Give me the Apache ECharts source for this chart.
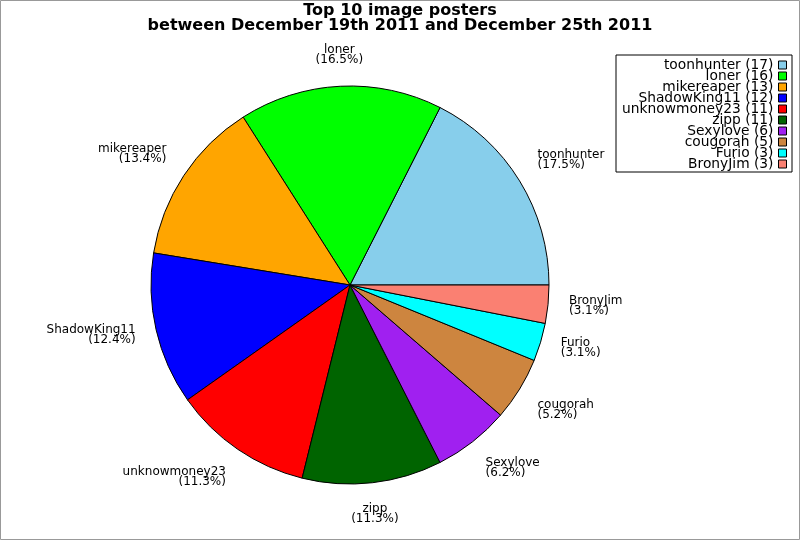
<!DOCTYPE html>
<html><head><meta charset="utf-8">
<script src="https://cdn.jsdelivr.net/npm/echarts@6/dist/echarts.min.js"></script>
<style>html,body{margin:0;padding:0;background:#fff}#c{width:800px;height:540px}</style>
</head><body><div id="c"></div>
<script>
const names = ['toonhunter','loner','mikereaper','ShadowKing11','unknowmoney23','zipp','Sexylove','cougorah','Furio','BronyJim'];
const counts = [17,16,13,12,11,11,6,5,3,3];
const colors = ['#87CEEB','#00FF00','#FFA500','#0000FF','#FF0000','#006400','#A020F0','#CD853F','#00FFFF','#FA8072'];
const titleText = 'Top 10 image posters\nbetween December 19th 2011 and December 25th 2011';

const CX = 350, CY = 285, R = 199, LR = 220;
const total = counts.reduce((a, b) => a + b, 0);
function midAngle(i) {
  let s = 0;
  for (let k = 0; k < i; k++) s += counts[k];
  return (s + counts[i] / 2) / total * 360;
}
const chart = echarts.init(document.getElementById('c'), null, {renderer: 'canvas'});
chart.setOption({
  animation: false,
  backgroundColor: '#fff',
  graphic: [{type: 'rect', shape: {x: 0.5, y: 0.5, width: 799, height: 539}, style: {fill: 'none', stroke: '#999', lineWidth: 1}, silent: true}],
  title: {
    text: titleText, left: 'center', top: 3, padding: 0,
    textStyle: {fontFamily: 'DejaVu Sans', fontSize: 16, fontWeight: 'bold', lineHeight: 15, color: '#000'}
  },
  legend: {
    orient: 'vertical', right: 8, top: 55, align: 'right',
    itemWidth: 8, itemHeight: 8, itemGap: -3, padding: [3, 5, 1, 6],
    borderColor: '#000', borderWidth: 1, icon: 'rect', selectedMode: false,
    textStyle: {fontFamily: 'DejaVu Sans', fontSize: 13.8, lineHeight: 11, color: '#000'},
    itemStyle: {borderColor: '#000', borderWidth: 1},
    formatter: n => n + ' (' + counts[names.indexOf(n)] + ')'
  },
  series: [{
    type: 'pie', center: [CX, CY], radius: R, startAngle: 0, clockwise: false,
    avoidLabelOverlap: false, silent: true,
    itemStyle: {borderColor: '#000', borderWidth: 1},
    label: {
      show: true, position: 'outside', fontFamily: 'DejaVu Sans', fontSize: 12, lineHeight: 10, color: '#000',
      formatter: p => p.name + '\n(' + (p.value / total * 100).toFixed(1) + '%)'
    },
    labelLine: {show: false},
    labelLayout: function (p) {
      const a = midAngle(p.dataIndex);
      const rad = a * Math.PI / 180;
      const sector = Math.round(a / 45) % 8;
      const align = ['left', 'left', 'center', 'right', 'right', 'right', 'center', 'left'][sector];
      const va = ['middle', 'bottom', 'bottom', 'bottom', 'middle', 'top', 'top', 'top'][sector];
      return {x: CX + LR * Math.cos(rad), y: CY - LR * Math.sin(rad), align: align, verticalAlign: va};
    },
    data: names.map((n, i) => ({name: n, value: counts[i], itemStyle: {color: colors[i]}}))
  }]
});
</script></body></html>
